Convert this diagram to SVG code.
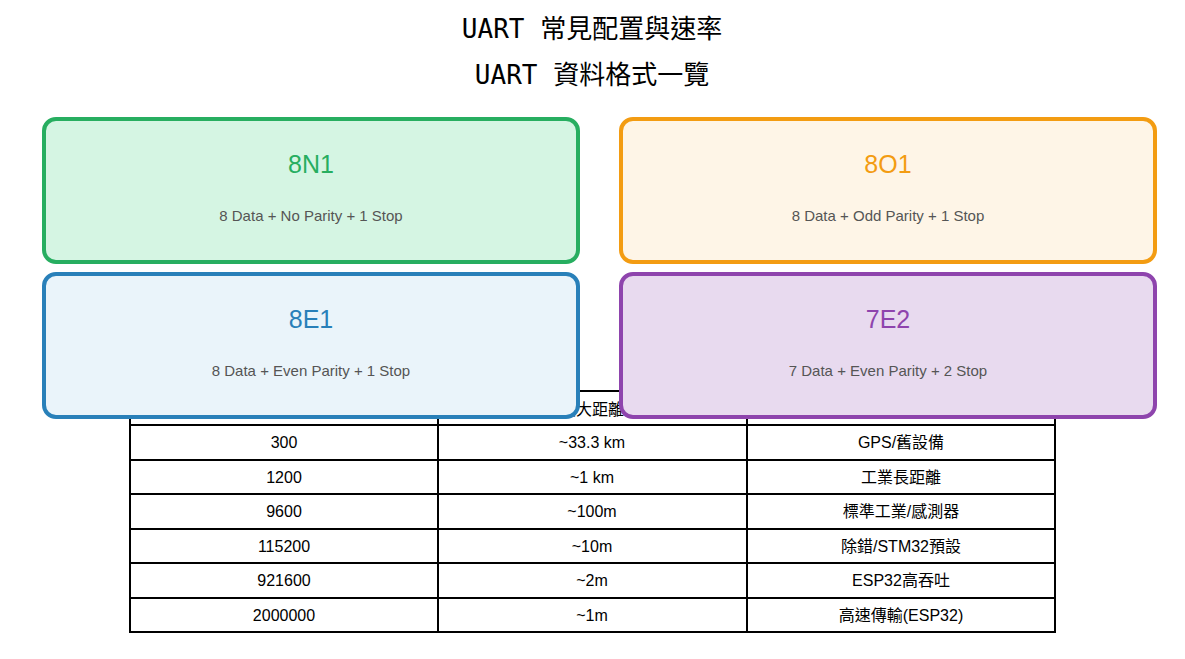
<svg xmlns="http://www.w3.org/2000/svg" width="1185" height="659" viewBox="0 0 1185 659">
<style>
text{font-family:"Liberation Sans","Noto Sans CJK TC",sans-serif;text-anchor:middle}
.title{font-size:26px;fill:#000;font-family:"DejaVu Sans Mono","Noto Sans CJK TC",monospace}
.cell{font-size:16px;fill:#000}
.tl{stroke:#000;stroke-width:2;fill:none}
.box{stroke-width:4}
.name{font-size:25px}
.desc{font-size:15px;fill:#555}
</style>
<rect width="1185" height="659" fill="#fff"/>
<text class="title" x="592" y="38">UART 常見配置與速率</text>
<text class="title" x="592" y="84">UART 資料格式一覽</text>
<g id="table">
<rect class="tl" x="130" y="391" width="925" height="241"/>
<path class="tl" d="M438 391V632M747 391V632M130 425H1055M130 460H1055M130 494H1055M130 529H1055M130 563H1055M130 598H1055"/>
<text class="cell" x="592" y="415">最大距離</text>
<text class="cell" x="284" y="448">300</text><text class="cell" x="592" y="448">~33.3 km</text><text class="cell" x="901" y="448">GPS/舊設備</text>
<text class="cell" x="284" y="483">1200</text><text class="cell" x="592" y="483">~1 km</text><text class="cell" x="901" y="483">工業長距離</text>
<text class="cell" x="284" y="517">9600</text><text class="cell" x="592" y="517">~100m</text><text class="cell" x="901" y="517">標準工業/感測器</text>
<text class="cell" x="284" y="552">115200</text><text class="cell" x="592" y="552">~10m</text><text class="cell" x="901" y="552">除錯/STM32預設</text>
<text class="cell" x="284" y="586">921600</text><text class="cell" x="592" y="586">~2m</text><text class="cell" x="901" y="586">ESP32高吞吐</text>
<text class="cell" x="284" y="621">2000000</text><text class="cell" x="592" y="621">~1m</text><text class="cell" x="901" y="621">高速傳輸(ESP32)</text>
</g>
<g id="n8N1"><rect class="box" x="44" y="119" width="534" height="143" rx="12" fill="#d5f5e3" stroke="#27ae60"/>
<text class="name" x="311" y="173" fill="#27ae60">8N1</text><text class="desc" x="311" y="221">8 Data + No Parity + 1 Stop</text></g>
<g id="n8O1"><rect class="box" x="621" y="119" width="534" height="143" rx="12" fill="#fef5e7" stroke="#f39c12"/>
<text class="name" x="888" y="173" fill="#f39c12">8O1</text><text class="desc" x="888" y="221">8 Data + Odd Parity + 1 Stop</text></g>
<g id="n8E1"><rect class="box" x="44" y="274" width="534" height="143" rx="12" fill="#eaf4fa" stroke="#2980b9"/>
<text class="name" x="311" y="328" fill="#2980b9">8E1</text><text class="desc" x="311" y="376">8 Data + Even Parity + 1 Stop</text></g>
<g id="n7E2"><rect class="box" x="621" y="274" width="534" height="143" rx="12" fill="#e8daef" stroke="#8e44ad"/>
<text class="name" x="888" y="328" fill="#8e44ad">7E2</text><text class="desc" x="888" y="376">7 Data + Even Parity + 2 Stop</text></g>
<g id="connectors"/>
</svg>
